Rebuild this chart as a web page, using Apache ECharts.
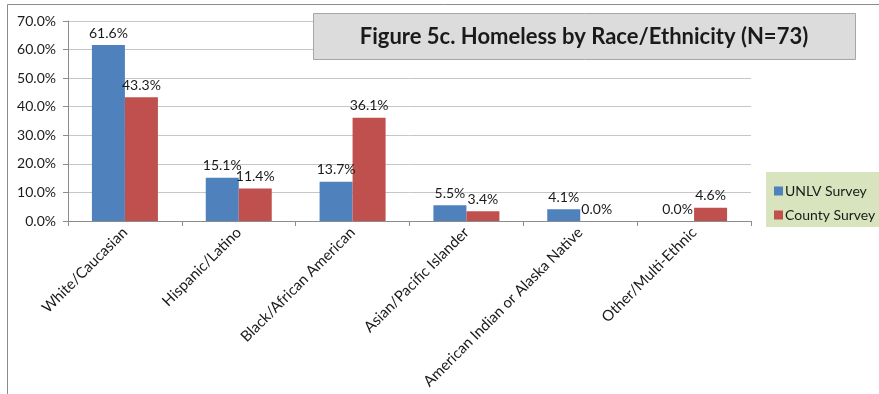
<!DOCTYPE html>
<html>
<head>
<meta charset="utf-8">
<script src="https://cdn.jsdelivr.net/npm/echarts@6/dist/echarts.min.js"></script>
<style>
  html, body { margin: 0; padding: 0; background: #fff; }
  #chart { width: 879px; height: 394px; }
</style>
</head>
<body>
<div id="chart"></div>
<script>
// 数据
const categories = ['White/Caucasian', 'Hispanic/Latino', 'Black/African American', 'Asian/Pacific Islander', 'American Indian or Alaska Native', 'Other/Multi-Ethnic']
const unlvSurvey = [61.6, 15.1, 13.7, 5.5, 4.1, 0.0]
const countySurvey = [43.3, 11.4, 36.1, 3.4, 0.0, 4.6]
const seriesNames = ['UNLV Survey', 'County Survey']
const yTicks = [0, 10, 20, 30, 40, 50, 60, 70]

const font = 'Lato, "Liberation Sans", sans-serif'

const chart = echarts.init(document.getElementById('chart'))

const barLabel = {
  show: true,
  position: 'top',
  distance: 5,
  color: '#1a1a1a',
  fontFamily: font,
  fontSize: 14,
  formatter: (p) => p.value.toFixed(1) + '%'
}

const options = {
  backgroundColor: '#fff',
  animation: false,
  graphic: [
    // 外框
    {
      type: 'rect',
      shape: { x: 7.5, y: 4.5, width: 900, height: 420 },
      style: { fill: 'none', stroke: '#8c8c8c', lineWidth: 1 },
      z: 0
    },
    // 标题框
    {
      type: 'rect',
      shape: { x: 313.5, y: 13.5, width: 542, height: 46 },
      style: { fill: '#dcdcdc', stroke: '#a6a6a6', lineWidth: 1 },
      z: 10
    },
    {
      type: 'text',
      x: 584, y: 37,
      style: {
        text: 'Figure 5c. Homeless by Race/Ethnicity (N=73)',
        fill: '#1a1a1a',
        font: 'bold 22px ' + font,
        align: 'center',
        verticalAlign: 'middle'
      },
      z: 11
    },
    // 图例背景
    {
      type: 'rect',
      shape: { x: 766, y: 172, width: 120, height: 55 },
      style: { fill: '#d7e4bd' },
      z: 5
    }
  ],
  legend: {
    orient: 'vertical',
    left: 769,
    top: 179,
    itemWidth: 9,
    itemHeight: 9,
    itemGap: 10,
    icon: 'rect',
    textStyle: { color: '#1a1a1a', fontFamily: font, fontSize: 14, padding: [0, 0, 0, -3] },
    z: 6
  },
  grid: {
    left: 68,
    right: 128,
    top: 21,
    bottom: 173,
    containLabel: false,
    outerBoundsMode: 'none'
  },
  xAxis: {
    type: 'category',
    data: categories,
    axisLine: { lineStyle: { color: '#8c8c8c' } },
    axisTick: { show: true, length: 5, lineStyle: { color: '#8c8c8c' } },
    axisLabel: {
      rotate: 45,
      interval: 0,
      margin: 9,
      color: '#1a1a1a',
      fontFamily: font,
      fontSize: 15
    }
  },
  yAxis: {
    type: 'value',
    min: yTicks[0],
    max: yTicks[yTicks.length - 1],
    interval: 10,
    axisLine: { show: true, lineStyle: { color: '#8c8c8c' } },
    axisTick: { show: true, length: 5, lineStyle: { color: '#8c8c8c' } },
    splitLine: { lineStyle: { color: '#c6c6c6' } },
    axisLabel: {
      margin: 12,
      color: '#1a1a1a',
      fontFamily: font,
      fontSize: 14,
      formatter: (v) => v.toFixed(1) + '%'
    }
  },
  series: [
    {
      name: seriesNames[0],
      type: 'bar',
      data: unlvSurvey,
      barWidth: 33,
      barGap: '0%',
      itemStyle: { color: '#4f81bd' },
      label: barLabel
    },
    {
      name: seriesNames[1],
      type: 'bar',
      data: countySurvey,
      barWidth: 33,
      barGap: '0%',
      itemStyle: { color: '#c0504d' },
      label: barLabel
    }
  ]
}

chart.setOption(options)

// 大小自适应
window.addEventListener('resize', () => {
  chart.resize()
})
</script>
</body>
</html>
